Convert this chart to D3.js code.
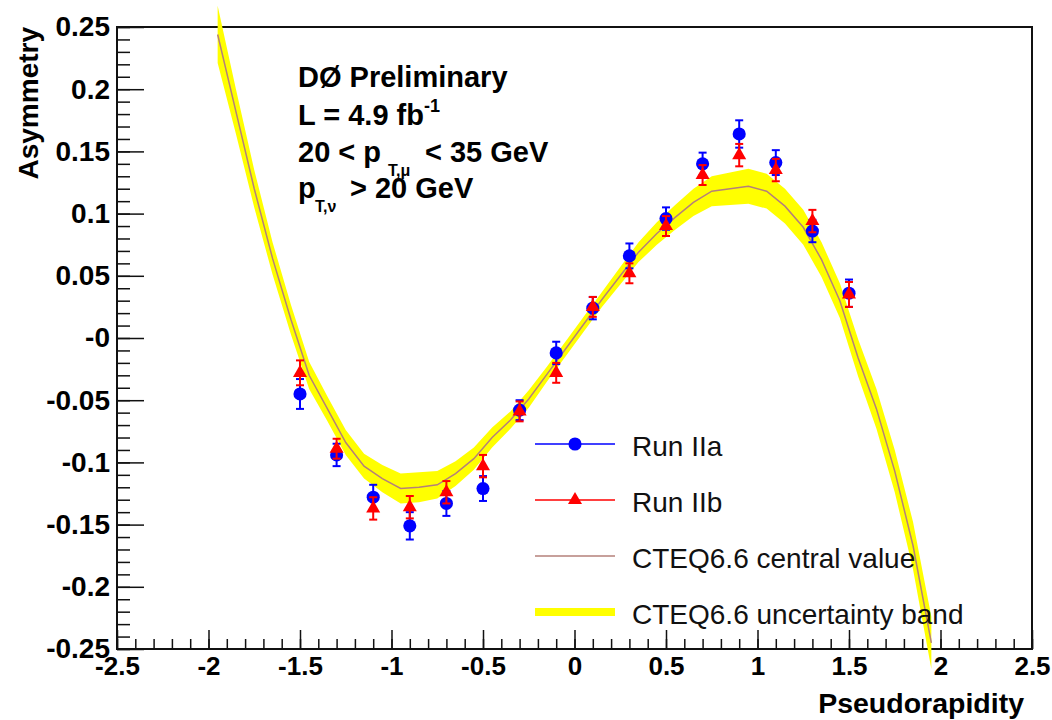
<!DOCTYPE html>
<html>
<head>
<meta charset="utf-8">
<script src="https://cdn.jsdelivr.net/npm/d3@7"></script>
<style>
  body { margin: 0; background: #fff; }
  svg text { font-family: 'Liberation Sans', Arial, Helvetica, sans-serif; }
</style>
</head>
<body>
<div id="chart"></div>
<script>
// Measured points (pseudorapidity bins)
const etaBins = [-1.5, -1.3, -1.1, -0.9, -0.7, -0.5, -0.3, -0.1, 0.1, 0.3, 0.5, 0.7, 0.9, 1.1, 1.3, 1.5];
const runIIa = [-0.045, -0.094, -0.128, -0.151, -0.133, -0.121, -0.058, -0.012, 0.024, 0.066, 0.096, 0.140, 0.164, 0.141, 0.086, 0.036];
const runIIaErr = [0.012, 0.009, 0.010, 0.011, 0.010, 0.010, 0.008, 0.009, 0.009, 0.010, 0.009, 0.009, 0.011, 0.010, 0.009, 0.011];
const runIIb = [-0.028, -0.089, -0.137, -0.136, -0.124, -0.103, -0.059, -0.028, 0.025, 0.052, 0.090, 0.131, 0.147, 0.135, 0.094, 0.035];
const runIIbErr = [0.010, 0.008, 0.009, 0.009, 0.009, 0.009, 0.008, 0.008, 0.008, 0.008, 0.008, 0.008, 0.009, 0.009, 0.009, 0.010];

// CTEQ6.6 prediction
const cteqEta = [-1.95, -1.85, -1.75, -1.65, -1.55, -1.45, -1.35, -1.25, -1.15, -1.05,
                 -0.95, -0.85, -0.75, -0.65, -0.55, -0.45, -0.35, -0.25, -0.15, -0.05,
                 0.05, 0.15, 0.25, 0.35, 0.45, 0.55, 0.65, 0.75, 0.85, 0.95,
                 1.05, 1.15, 1.25, 1.35, 1.45, 1.55, 1.65, 1.75, 1.85, 1.95];
const cteqCentral = [0.244, 0.182, 0.120, 0.064, 0.015, -0.030, -0.057, -0.084, -0.103, -0.113,
                     -0.121, -0.120, -0.118, -0.109, -0.097, -0.080, -0.066, -0.049, -0.029, -0.009,
                     0.011, 0.031, 0.050, 0.069, 0.084, 0.097, 0.109, 0.118, 0.120, 0.122,
                     0.118, 0.106, 0.089, 0.063, 0.030, -0.016, -0.057, -0.107, -0.167, -0.245];
const cteqErr = [0.023, 0.018, 0.015, 0.013, 0.012, 0.011, 0.010, 0.010, 0.010, 0.011,
                 0.012, 0.012, 0.011, 0.010, 0.009, 0.008, 0.007, 0.007, 0.006, 0.006,
                 0.006, 0.006, 0.007, 0.008, 0.009, 0.010, 0.011, 0.012, 0.013, 0.014,
                 0.014, 0.014, 0.014, 0.014, 0.014, 0.015, 0.016, 0.017, 0.019, 0.021];

// Axis ticks
const xTicks = [-2.5, -2, -1.5, -1, -0.5, 0, 0.5, 1, 1.5, 2, 2.5];
const xTickLabels = ['-2.5', '-2', '-1.5', '-1', '-0.5', '0', '0.5', '1', '1.5', '2', '2.5'];
const yTicks = [0.25, 0.2, 0.15, 0.1, 0.05, 0, -0.05, -0.1, -0.15, -0.2, -0.25];
const yTickLabels = ['0.25', '0.2', '0.15', '0.1', '0.05', '-0', '-0.05', '-0.1', '-0.15', '-0.2', '-0.25'];

const legendLabels = ['Run IIa', 'Run IIb', 'CTEQ6.6 central value', 'CTEQ6.6 uncertainty band'];

const colors = {
    runIIa: '#0000ff',
    runIIb: '#ff0000',
    central: '#b5807a',
    band: '#ffff00'
};

const W = 1052, H = 720;
const frame = { left: 117, right: 1032, top: 27, bottom: 649 };

const svg = d3.select('#chart').append('svg')
    .attr('width', W)
    .attr('height', H);

const x = d3.scaleLinear().domain([-2.5, 2.5]).range([frame.left, frame.right]);
const y = d3.scaleLinear().domain([-0.25, 0.25]).range([frame.bottom, frame.top]);

// frame
svg.append('rect')
    .attr('x', frame.left)
    .attr('y', frame.top)
    .attr('width', frame.right - frame.left)
    .attr('height', frame.bottom - frame.top)
    .attr('fill', 'none')
    .attr('stroke', '#111')
    .attr('stroke-width', 2);

// minor ticks
const yMinor = d3.range(-25, 26).map(i => i / 100);
const xMinor = d3.range(-25, 26).map(i => i / 10);

svg.append('g')
    .attr('transform', `translate(${frame.left},0)`)
    .call(d3.axisLeft(y).tickValues(yMinor).tickSize(-13).tickFormat(''))
    .call(g => g.select('.domain').remove());

svg.append('g')
    .attr('transform', `translate(0,${frame.bottom})`)
    .call(d3.axisBottom(x).tickValues(xMinor).tickSize(-10).tickFormat(''))
    .call(g => g.select('.domain').remove());

// major ticks + labels
const yAxis = svg.append('g')
    .attr('transform', `translate(${frame.left},0)`)
    .call(d3.axisLeft(y).tickValues(yTicks).tickSize(-27).tickPadding(7)
        .tickFormat((d, i) => yTickLabels[i]));
yAxis.select('.domain').remove();
yAxis.selectAll('text')
    .style('font-size', '28px')
    .style('font-weight', 'bold')
    .attr('fill', '#000');

const xAxis = svg.append('g')
    .attr('transform', `translate(0,${frame.bottom})`)
    .call(d3.axisBottom(x).tickValues(xTicks).tickSize(-19).tickPadding(8)
        .tickFormat((d, i) => xTickLabels[i]));
xAxis.select('.domain').remove();
xAxis.selectAll('text')
    .style('font-size', '26px')
    .style('font-weight', 'bold')
    .attr('fill', '#000');

svg.selectAll('.tick line').attr('stroke', '#111').attr('stroke-width', 1.5);

// axis titles
svg.append('text')
    .attr('transform', `translate(38,${frame.top}) rotate(-90)`)
    .attr('text-anchor', 'end')
    .style('font-size', '28px')
    .style('font-weight', 'bold')
    .text('Asymmetry');

svg.append('text')
    .attr('x', 1024)
    .attr('y', 713)
    .attr('text-anchor', 'end')
    .style('font-size', '28.5px')
    .style('font-weight', 'bold')
    .text('Pseudorapidity');

// CTEQ band + central line
const cteq = cteqEta.map((e, i) => ({ eta: e, v: cteqCentral[i], err: cteqErr[i] }));

svg.append('path')
    .datum(cteq)
    .attr('fill', colors.band)
    .attr('d', d3.area()
        .x(d => x(d.eta))
        .y0(d => y(d.v - d.err))
        .y1(d => y(d.v + d.err)));

svg.append('path')
    .datum(cteq)
    .attr('fill', 'none')
    .attr('stroke', colors.central)
    .attr('stroke-width', 1.5)
    .attr('d', d3.line().x(d => x(d.eta)).y(d => y(d.v)));

// data points with error bars
function drawSeries(values, errs, color, marker) {
    const pts = etaBins.map((e, i) => ({ eta: e, v: values[i], err: errs[i] }));
    const g = svg.append('g');
    const bars = g.selectAll('g.bar').data(pts).enter().append('g');
    bars.append('line')
        .attr('x1', d => x(d.eta)).attr('x2', d => x(d.eta))
        .attr('y1', d => y(d.v - d.err)).attr('y2', d => y(d.v + d.err))
        .attr('stroke', color).attr('stroke-width', 2);
    [-1, 1].forEach(s => {
        bars.append('line')
            .attr('x1', d => x(d.eta) - 4).attr('x2', d => x(d.eta) + 4)
            .attr('y1', d => y(d.v + s * d.err)).attr('y2', d => y(d.v + s * d.err))
            .attr('stroke', color).attr('stroke-width', 2);
    });
    g.selectAll('path.m').data(pts).enter().append('path')
        .attr('transform', d => `translate(${x(d.eta)},${y(d.v)})`)
        .attr('d', d3.symbol(marker, marker === d3.symbolCircle ? 135 : 85)())
        .attr('fill', color);
}

drawSeries(runIIa, runIIaErr, colors.runIIa, d3.symbolCircle);
drawSeries(runIIb, runIIbErr, colors.runIIb, d3.symbolTriangle);

// legend
const legend = svg.append('g');
const rowY = [444, 500, 556, 612];
const lx0 = 535, lx1 = 615, lxm = 575, ltx = 632;

legend.append('line').attr('x1', lx0).attr('x2', lx1).attr('y1', rowY[0]).attr('y2', rowY[0])
    .attr('stroke', colors.runIIa).attr('stroke-width', 1.5);
legend.append('path').attr('transform', `translate(${lxm},${rowY[0]})`)
    .attr('d', d3.symbol(d3.symbolCircle, 135)()).attr('fill', colors.runIIa);

legend.append('line').attr('x1', lx0).attr('x2', lx1).attr('y1', rowY[1]).attr('y2', rowY[1])
    .attr('stroke', colors.runIIb).attr('stroke-width', 1.5);
legend.append('path').attr('transform', `translate(${lxm},${rowY[1]})`)
    .attr('d', d3.symbol(d3.symbolTriangle, 85)()).attr('fill', colors.runIIb);

legend.append('line').attr('x1', lx0).attr('x2', lx1).attr('y1', rowY[2]).attr('y2', rowY[2])
    .attr('stroke', colors.central).attr('stroke-width', 1.5);

legend.append('line').attr('x1', lx0).attr('x2', lx1).attr('y1', rowY[3]).attr('y2', rowY[3])
    .attr('stroke', colors.band).attr('stroke-width', 8);

legendLabels.forEach((t, i) => {
    legend.append('text')
        .attr('x', ltx)
        .attr('y', rowY[i] + 12)
        .style('font-size', '28px')
        .attr('fill', '#111')
        .text(t);
});

// info text
const info = svg.append('g').style('font-weight', 'bold').style('font-size', '29px');
info.append('text').attr('x', 298).attr('y', 87).text('DØ Preliminary');

const l2 = info.append('text').attr('x', 298).attr('y', 125);
l2.append('tspan').text('L = 4.9 fb');
l2.append('tspan').attr('dy', -13).style('font-size', '18px').text('-1');

const l3 = info.append('text').attr('x', 298).attr('y', 162);
l3.append('tspan').text('20 < p');
l3.append('tspan').attr('x', 388).attr('dy', 14).style('font-size', '16px').text('T,μ');
l3.append('tspan').attr('x', 425).attr('dy', -14).text('< 35 GeV');

const l4 = info.append('text').attr('x', 298).attr('y', 198);
l4.append('tspan').text('p');
l4.append('tspan').attr('x', 315).attr('dy', 14).style('font-size', '16px').text('T,ν');
l4.append('tspan').attr('x', 350).attr('dy', -14).text('> 20 GeV');
</script>
</body>
</html>
